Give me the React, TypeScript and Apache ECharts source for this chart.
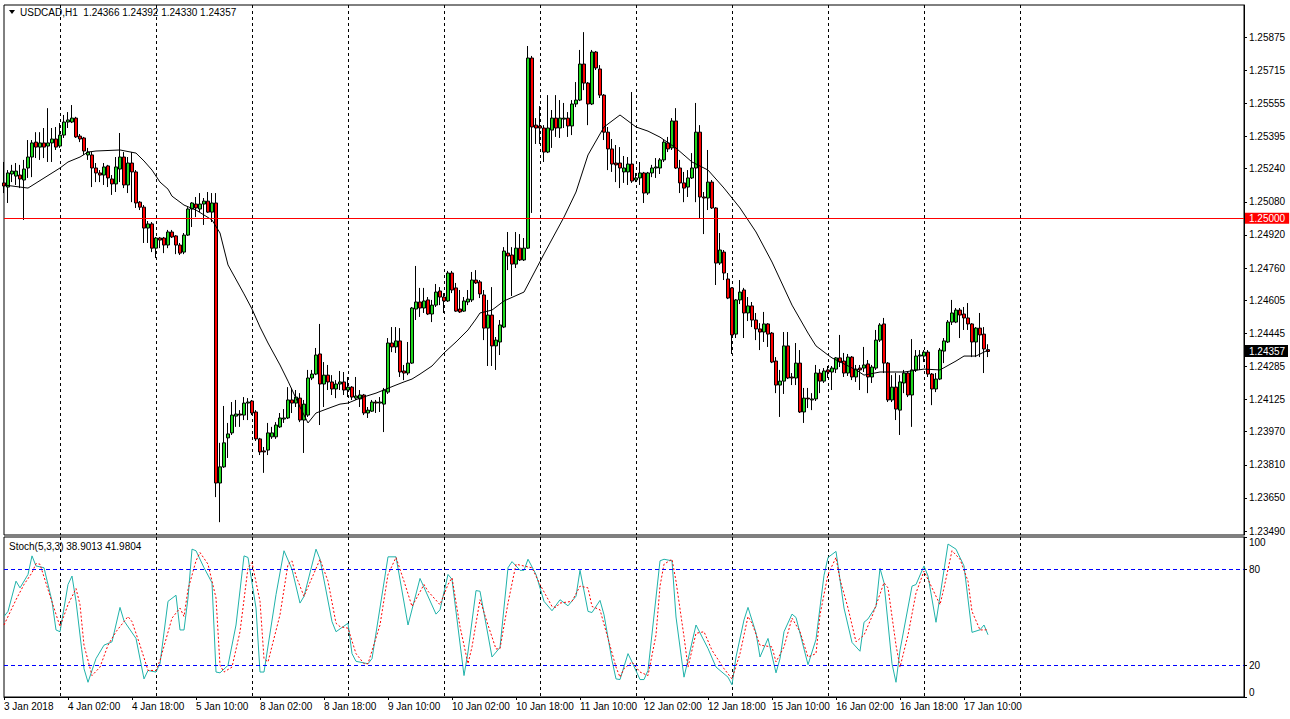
import React, { useEffect, useRef } from 'react';
import * as echarts from 'echarts';

// ---------- data (USDCAD H1, first bar 3 Jan 2018 10:00) ----------
const symbolName = 'USDCAD,H1';
const firstBarUTC = Date.UTC(2018, 0, 3, 10);
const totalSlots = 311;
const labelEvery = 16;
const levelPrice = 1.25;

const open = [
1.25171,1.25151,1.25214,1.25204,1.25209,1.25185,1.25243,1.25296,1.25368,1.25344,
1.25364,1.25349,1.25364,1.25383,1.25349,1.25402,1.25465,1.25465,1.25484,1.25397,
1.25388,1.25306,1.25306,1.25243,1.25219,1.25209,1.25253,1.25190,1.25166,1.25238,
1.25296,1.25161,1.25267,1.25224,1.25078,1.25054,1.24953,1.24973,1.24856,1.24905,
1.24905,1.24871,1.24934,1.24915,1.24871,1.24837,1.24919,1.25045,1.25069,1.25045,
1.25069,1.25083,1.25030,1.25074,1.23722,1.23800,1.23940,1.23964,1.24045,1.24055,
1.24050,1.24108,1.24118,1.24065,1.23935,1.23877,1.23881,1.23945,1.23945,1.23993,
1.24031,1.24036,1.24123,1.24108,1.24132,1.24026,1.24050,1.24229,1.24248,1.24345,
1.24200,1.24243,1.24210,1.24176,1.24200,1.24210,1.24171,1.24185,1.24132,1.24128,
1.24147,1.24060,1.24069,1.24113,1.24108,1.24103,1.24161,1.24398,1.24379,1.24408,
1.24263,1.24253,1.24301,1.24562,1.24596,1.24567,1.24606,1.24538,1.24581,1.24649,
1.24620,1.24601,1.24736,1.24664,1.24562,1.24552,1.24596,1.24606,1.24702,1.24693,
1.24630,1.24470,1.24533,1.24384,1.24403,1.24475,1.24832,1.24823,1.24779,1.24856,
1.24799,1.24856,1.25774,1.25450,1.25446,1.25436,1.25320,1.25426,1.25484,1.25436,
1.25479,1.25484,1.25446,1.25552,1.25571,1.25745,1.25653,1.25552,1.25803,1.25721,
1.25595,1.25416,1.25335,1.25267,1.25267,1.25224,1.25224,1.25262,1.25185,1.25195,
1.25219,1.25122,1.25219,1.25243,1.25243,1.25282,1.25364,1.25340,1.25470,1.25243,
1.25171,1.25151,1.25195,1.25243,1.25416,1.25103,1.25098,1.25175,1.25050,1.24784,
1.24837,1.24707,1.24664,1.24441,1.24606,1.24654,1.24543,1.24577,1.24509,1.24466,
1.24451,1.24490,1.24446,1.24311,1.24195,1.24214,1.24384,1.24234,1.24229,1.24301,
1.24065,1.24132,1.24123,1.24128,1.24253,1.24214,1.24268,1.24258,1.24272,1.24326,
1.24311,1.24253,1.24330,1.24234,1.24277,1.24277,1.24297,1.24234,1.24277,1.24412,
1.24490,1.24301,1.24123,1.24185,1.24074,1.24205,1.24253,1.24147,1.24268,1.24335,
1.24335,1.24354,1.24248,1.24176,1.24224,1.24359,1.24403,1.24499,1.24499,1.24557,
1.24538,1.24519,1.24490,1.24403,1.24470,1.24441,1.24366];

const high = [
1.25272,1.25233,1.25258,1.25267,1.25258,1.25282,1.25378,1.25378,1.25416,1.25416,
1.25436,1.25532,1.25436,1.25441,1.25460,1.25499,1.25513,1.25547,1.25490,1.25407,
1.25393,1.25340,1.25320,1.25267,1.25233,1.25267,1.25258,1.25209,1.25296,1.25412,
1.25320,1.25296,1.25320,1.25233,1.25083,1.25064,1.24987,1.24982,1.24910,1.24910,
1.24910,1.24944,1.24944,1.24919,1.24881,1.24929,1.25054,1.25078,1.25103,1.25122,
1.25098,1.25127,1.25122,1.25122,1.23916,1.24094,1.24012,1.24113,1.24123,1.24074,
1.24137,1.24132,1.24123,1.24074,1.23940,1.23896,1.24012,1.23993,1.24016,1.24060,
1.24079,1.24185,1.24181,1.24171,1.24156,1.24123,1.24268,1.24268,1.24374,1.24490,
1.24306,1.24292,1.24243,1.24219,1.24263,1.24258,1.24234,1.24190,1.24234,1.24171,
1.24152,1.24089,1.24123,1.24123,1.24137,1.24181,1.24422,1.24475,1.24475,1.24470,
1.24292,1.24403,1.24572,1.24770,1.24664,1.24664,1.24620,1.24606,1.24683,1.24668,
1.24639,1.24746,1.24746,1.24688,1.24654,1.24620,1.24654,1.24741,1.24750,1.24702,
1.24654,1.24606,1.24668,1.24427,1.24509,1.24861,1.24934,1.24861,1.24934,1.24924,
1.24905,1.25832,1.25784,1.25484,1.25542,1.25450,1.25595,1.25523,1.25595,1.25571,
1.25557,1.25513,1.25571,1.25658,1.25813,1.25899,1.25658,1.25813,1.25808,1.25740,
1.25600,1.25441,1.25383,1.25354,1.25344,1.25301,1.25296,1.25610,1.25219,1.25272,
1.25224,1.25224,1.25258,1.25291,1.25291,1.25378,1.25393,1.25484,1.25532,1.25282,
1.25224,1.25233,1.25315,1.25557,1.25450,1.25127,1.25330,1.25185,1.25054,1.24929,
1.24847,1.24736,1.24668,1.24610,1.24702,1.24664,1.24620,1.24596,1.24543,1.24494,
1.24548,1.24494,1.24451,1.24330,1.24268,1.24451,1.24451,1.24253,1.24398,1.24364,
1.24181,1.24181,1.24156,1.24292,1.24272,1.24277,1.24287,1.24287,1.24330,1.24437,
1.24350,1.24345,1.24335,1.24292,1.24292,1.24379,1.24316,1.24292,1.24461,1.24494,
1.24519,1.24306,1.24243,1.24253,1.24243,1.24268,1.24258,1.24417,1.24364,1.24364,
1.24364,1.24364,1.24253,1.24253,1.24374,1.24422,1.24509,1.24606,1.24567,1.24567,
1.24572,1.24591,1.24494,1.24475,1.24543,1.24475,1.24392];

const low = [
1.25122,1.25074,1.25175,1.25161,1.25146,1.24992,1.25195,1.25199,1.25291,1.25282,
1.25291,1.25272,1.25272,1.25330,1.25340,1.25388,1.25436,1.25460,1.25388,1.25368,
1.25306,1.25282,1.25151,1.25175,1.25175,1.25161,1.25151,1.25113,1.25127,1.25175,
1.25146,1.25122,1.25078,1.25050,1.25040,1.24881,1.24881,1.24837,1.24808,1.24856,
1.24832,1.24856,1.24905,1.24827,1.24823,1.24827,1.24915,1.24958,1.25006,1.25030,
1.24968,1.25026,1.24982,1.23654,1.23533,1.23795,1.23843,1.23954,1.23993,1.23993,
1.24026,1.24026,1.24050,1.23925,1.23857,1.23771,1.23857,1.23935,1.23935,1.23988,
1.24012,1.24031,1.24060,1.24089,1.24016,1.23867,1.24041,1.24219,1.24243,1.24002,
1.24089,1.24171,1.24147,1.24132,1.24171,1.24147,1.24137,1.24123,1.24123,1.24089,
1.24050,1.24036,1.24065,1.24060,1.24065,1.23968,1.24152,1.24354,1.24350,1.24234,
1.24219,1.24243,1.24297,1.24509,1.24524,1.24543,1.24533,1.24499,1.24572,1.24581,
1.24543,1.24596,1.24639,1.24548,1.24543,1.24548,1.24581,1.24596,1.24683,1.24615,
1.24412,1.24287,1.24287,1.24268,1.24340,1.24470,1.24750,1.24625,1.24760,1.24794,
1.24794,1.24852,1.25026,1.25359,1.25359,1.25272,1.25315,1.25340,1.25393,1.25388,
1.25436,1.25393,1.25402,1.25537,1.25566,1.25619,1.25450,1.25547,1.25716,1.25581,
1.25378,1.25233,1.25224,1.25175,1.25146,1.25171,1.25161,1.25171,1.25175,1.25161,
1.25074,1.25113,1.25199,1.25195,1.25214,1.25272,1.25320,1.25330,1.25238,1.25122,
1.25078,1.25103,1.25190,1.25078,1.25001,1.24924,1.25040,1.25045,1.24678,1.24775,
1.24702,1.24610,1.24345,1.24422,1.24586,1.24422,1.24504,1.24475,1.24412,1.24364,
1.24403,1.24379,1.24301,1.24156,1.24041,1.24152,1.24224,1.24195,1.24195,1.24060,
1.24012,1.24084,1.24074,1.24118,1.24156,1.24205,1.24229,1.24171,1.24253,1.24282,
1.24234,1.24239,1.24219,1.24210,1.24171,1.24258,1.24156,1.24205,1.24268,1.24403,
1.24253,1.24113,1.24113,1.24026,1.23954,1.24156,1.24137,1.23993,1.24258,1.24268,
1.24306,1.24234,1.24098,1.24161,1.24219,1.24301,1.24398,1.24485,1.24494,1.24422,
1.24461,1.24461,1.24330,1.24330,1.24330,1.24253,1.24330];

const close = [
1.25156,1.25219,1.25228,1.25228,1.25190,1.25238,1.25296,1.25364,1.25344,1.25364,
1.25344,1.25364,1.25383,1.25344,1.25402,1.25465,1.25475,1.25484,1.25393,1.25383,
1.25325,1.25320,1.25243,1.25219,1.25209,1.25248,1.25195,1.25166,1.25248,1.25296,
1.25161,1.25267,1.25224,1.25074,1.25054,1.24953,1.24973,1.24856,1.24905,1.24895,
1.24871,1.24934,1.24910,1.24871,1.24832,1.24919,1.25045,1.25074,1.25050,1.25069,
1.25083,1.25030,1.25074,1.23722,1.23800,1.23916,1.23959,1.24050,1.24055,1.24050,
1.24108,1.24113,1.24060,1.23935,1.23872,1.23872,1.23964,1.23964,1.24002,1.24036,
1.24036,1.24123,1.24108,1.24137,1.24026,1.24103,1.24229,1.24248,1.24340,1.24200,
1.24243,1.24210,1.24176,1.24200,1.24210,1.24171,1.24185,1.24137,1.24142,1.24147,
1.24060,1.24074,1.24113,1.24108,1.24113,1.24171,1.24398,1.24379,1.24408,1.24258,
1.24253,1.24301,1.24567,1.24596,1.24567,1.24601,1.24538,1.24581,1.24644,1.24620,
1.24601,1.24736,1.24654,1.24552,1.24548,1.24601,1.24610,1.24702,1.24688,1.24635,
1.24470,1.24533,1.24384,1.24412,1.24485,1.24842,1.24818,1.24779,1.24856,1.24799,
1.24856,1.25774,1.25441,1.25436,1.25436,1.25320,1.25436,1.25484,1.25436,1.25484,
1.25484,1.25446,1.25552,1.25571,1.25745,1.25653,1.25552,1.25803,1.25726,1.25595,
1.25416,1.25335,1.25262,1.25258,1.25243,1.25243,1.25262,1.25180,1.25195,1.25219,
1.25122,1.25219,1.25243,1.25248,1.25282,1.25368,1.25335,1.25470,1.25243,1.25171,
1.25146,1.25195,1.25243,1.25416,1.25103,1.25098,1.25175,1.25050,1.24784,1.24847,
1.24736,1.24615,1.24437,1.24606,1.24644,1.24543,1.24577,1.24509,1.24466,1.24451,
1.24490,1.24441,1.24306,1.24195,1.24214,1.24384,1.24229,1.24229,1.24301,1.24065,
1.24132,1.24128,1.24128,1.24253,1.24214,1.24263,1.24258,1.24277,1.24326,1.24306,
1.24253,1.24330,1.24234,1.24272,1.24268,1.24292,1.24234,1.24282,1.24412,1.24485,
1.24301,1.24123,1.24185,1.24079,1.24210,1.24253,1.24147,1.24268,1.24335,1.24340,
1.24354,1.24248,1.24176,1.24224,1.24364,1.24408,1.24499,1.24543,1.24557,1.24533,
1.24519,1.24490,1.24403,1.24470,1.24437,1.24369,1.24357];

// moving average, read at bar indices
const maIndex = [0,6,14,16,19,21,23,29,33,35,37,39,41,42,45,48,52,54,56,60,62,64,66,69,71,74,76,78,82,84,86,89,93,98,100,102,104,107,110,113,116,118,119,122,125,130,135,140,143,146,150,154,158,161,164,168,172,176,180,184,188,192,197,201,203,206,207,213,215,219,225,230,234,238,240,243,246];
const maValue = [1.25161,1.25146,1.25243,1.25272,1.25296,1.25320,1.25325,1.25330,1.25315,1.25277,1.25233,1.25175,1.25141,1.25107,1.25064,1.25040,1.24992,1.24929,1.24775,1.24635,1.24562,1.24475,1.24398,1.24292,1.24214,1.24089,1.24012,1.24060,1.24089,1.24103,1.24108,1.24132,1.24156,1.24195,1.24210,1.24224,1.24248,1.24287,1.24350,1.24403,1.24461,1.24514,1.24543,1.24557,1.24601,1.24644,1.24828,1.25006,1.25127,1.25306,1.25441,1.25499,1.25441,1.25421,1.25392,1.25339,1.25272,1.25233,1.25146,1.25050,1.24934,1.24789,1.24581,1.24446,1.24384,1.24340,1.24326,1.24268,1.24243,1.24258,1.24258,1.24272,1.24268,1.24311,1.24335,1.24335,1.24364];

// Stochastic(5,3,3) main (%K) and signal (%D), read at bar indices
const kIndex = [0,1,3,4,6,7,8,10,12,13,14,16,17,18,20,21,23,25,27,29,30,33,35,36,38,39,41,43,44,45,46,47,48,50,52,53,54,56,58,60,61,63,64,65,68,70,72,74,75,78,79,82,83,86,87,88,91,92,96,98,101,104,108,109,111,112,115,116,118,119,122,124,126,127,129,130,131,133,135,137,139,141,143,144,146,147,149,150,152,153,154,156,157,159,160,161,164,165,167,168,170,173,176,178,181,182,183,185,186,188,189,191,193,194,195,197,198,201,203,205,206,208,210,212,214,215,216,218,219,220,222,223,224,227,228,230,231,233,234,236,238,240,242,244,245,246];
const kValue = [50.3,53.5,72.4,68.2,76.6,88.2,81.9,80.8,59.8,41.9,40.8,70.3,75.6,59.8,17.7,9.2,24,32.4,34.5,56,47.6,36.6,11.3,16.6,15.6,20.8,59.8,63.6,41.9,41.9,61.9,92.4,91.4,80.8,71.4,15.6,15.1,19.8,45,88.2,87.2,55.6,15.6,15.6,64,91.4,79.8,58.7,62.9,92.4,86.1,47.1,40.8,46.1,27.1,22.3,20.8,24,87.6,87.6,45,74.1,51.8,54.5,76.6,73.5,13.4,28.2,66.5,66.1,25,31,80.8,84.6,79.2,79.2,86.1,76.6,59.8,53.9,60.8,57,63,79.2,53.5,52.8,60.4,51.4,22.9,11.3,10.9,27.1,21.9,10.9,10.9,16.6,85.1,86.1,85.1,50,12.4,45,30.3,18.7,12.4,7.6,25,48.2,56,40,25,36.6,15.1,24,40.8,51.8,49.7,20.2,36,76,87.2,91,55.6,34.1,28.6,46.7,48.8,56.6,80.4,71.4,20.8,9.2,29.2,69.3,70.3,81.9,75.6,46.7,63,95.6,92.4,81.9,40.4,42,45,38.9013];
const dIndex = [0,3,5,7,8,9,11,14,16,18,19,20,22,24,26,28,31,32,34,36,38,39,42,44,45,46,48,49,51,53,54,55,57,59,61,62,64,65,66,69,71,72,73,75,77,79,81,83,84,86,88,90,91,94,96,98,100,102,105,106,109,111,112,114,116,117,119,121,123,124,126,128,131,132,134,137,138,139,142,144,146,147,149,151,153,154,155,157,159,161,163,164,165,167,168,170,171,173,175,177,180,182,184,186,187,189,192,193,195,197,199,201,203,204,206,208,209,211,213,215,217,220,221,223,224,226,228,230,231,234,235,237,239,241,242,244,246];
const dValue = [45,60.8,70.3,77.7,83.4,83,67.2,44,57.7,67.8,57.7,32.4,13.4,18.7,32.4,40.8,50.3,47.1,32.4,16.6,16.6,22.9,49.3,55.6,50.3,67.2,85.1,90.3,83,61.9,19.8,15.6,18.7,40.8,80.8,84,59.8,24,21.9,51.4,83,85.1,75.6,62.9,74.5,86.1,72.4,46.1,44,43,27.1,20.8,20.8,45,76.6,87.2,72.4,56.6,70.3,66.1,57.7,70.3,74.5,44,20.8,31.3,60.8,45,30,30.3,58.7,83,81.3,80.8,70.3,56.6,56,58.7,59.8,69.3,68.2,56.6,54.5,36.6,18.7,12.4,17.7,21.9,15.6,13.4,38.7,69.3,83,86.1,72.4,37.7,18.7,39.8,40.8,29.2,17.7,11.3,27.1,50.3,46.1,32.4,31.3,21.9,31.3,49.3,40.8,25,27.1,51.4,76.6,87.2,73.5,55.6,34.5,38.7,50.3,71.4,68.2,32.4,18.7,38.7,65,78.7,73.5,57.7,68.2,91.4,86.1,72.4,53.5,41.9,41.9804];

const priceTicks = [1.25875,1.25715,1.25555,1.25395,1.25240,1.25080,1.24920,1.24760,1.24605,1.24445,1.24285,1.24125,1.23970,1.23810,1.23650,1.23490];
const stochTicks = [0, 20, 80, 100];
const stochLevels = [80, 20];
const stochParams = '5,3,3';

// ---------- helpers ----------
const MONTHS = ['Jan','Feb','Mar','Apr','May','Jun','Jul','Aug','Sep','Oct','Nov','Dec'];
function buildTimes(n: number): number[] {
  const out: number[] = [];
  let t = firstBarUTC;
  while (out.length < n) {
    const wd = new Date(t).getUTCDay();
    if (wd !== 0 && wd !== 6) out.push(t);
    t += 3600000;
  }
  return out;
}
const times = buildTimes(totalSlots);
const categories = times.map((t) => String(t));
const nBars = open.length;
const pad2 = (n: number) => (n < 10 ? '0' + n : String(n));
function fmtTime(i: number): string {
  const d = new Date(times[i]);
  const base = d.getUTCDate() + ' ' + MONTHS[d.getUTCMonth()];
  if (i === 0) return base + ' ' + d.getUTCFullYear();
  return base + ' ' + pad2(d.getUTCHours()) + ':' + pad2(d.getUTCMinutes());
}
const isLabel = (i: number) => i % labelEvery === 0 && i < nBars;
const isDayStart = (i: number) => i < nBars + 24 && new Date(times[i]).getUTCHours() === 0;

const FONT = '"Liberation Sans", Arial, sans-serif';

export default function App() {
  const ref = useRef<HTMLDivElement>(null);
  useEffect(() => {
    const chart = echarts.init(ref.current!, null, { renderer: 'svg' });
    const candles = open.map((o, i) => [o, close[i], low[i], high[i]]);
    const maData = maIndex.map((x, i) => [x, maValue[i]]);
    const kData = kIndex.map((x, i) => [x, kValue[i]]);
    const dData = dIndex.map((x, i) => [x, dValue[i]]);
    const last = nBars - 1;
    const sep = { show: true, interval: (i: number) => isDayStart(i), lineStyle: { color: '#000', type: [3, 3], width: 1 } };
    const header = `${symbolName}  ${open[last].toFixed(5)} ${high[last].toFixed(5)} ${low[last].toFixed(5)} ${close[last].toFixed(5)}`;
    const stochTitle = `Stoch(${stochParams}) ${kValue[kValue.length - 1].toFixed(4)} ${dValue[dValue.length - 1].toFixed(4)}`;
    const levelStyle = { color: '#0000ff', width: 1, type: [4, 3], opacity: 1 };
    const baseGraphic = [
      { type: 'polygon', shape: { points: [[9, 10], [15, 10], [12, 14]] }, style: { fill: '#000' }, z: 10 },
      { type: 'text', x: 20, y: 7, style: { text: header, fill: '#000', font: `10px ${FONT}` }, z: 10 },
      { type: 'text', x: 9, y: 541, style: { text: stochTitle, fill: '#000', font: `10px ${FONT}` }, z: 10 },
    ];

    chart.setOption({
      animation: false,
      backgroundColor: '#ffffff',
      textStyle: { fontFamily: FONT, fontSize: 10, color: '#000' },
      grid: [
        { left: 4, right: 46, top: 5, height: 530, show: true, borderColor: '#000', borderWidth: 1, backgroundColor: '#fff' },
        { left: 4, right: 46, top: 537, height: 160, show: true, borderColor: '#000', borderWidth: 1, backgroundColor: '#fff' },
      ],
      xAxis: [
        {
          type: 'category', gridIndex: 0, data: categories, boundaryGap: false,
          axisLine: { show: false }, axisTick: { show: false }, axisLabel: { show: false },
          splitLine: sep,
        },
        {
          type: 'category', gridIndex: 1, data: categories, boundaryGap: false,
          axisLine: { show: true, lineStyle: { color: '#000', width: 1 } },
          axisTick: { show: true, interval: (i: number) => isLabel(i), length: 3, lineStyle: { color: '#000' } },
          axisLabel: {
            show: true, interval: (i: number) => isLabel(i), formatter: (_v: string, i: number) => fmtTime(i),
            align: 'left', margin: 4, color: '#000', fontFamily: FONT, fontSize: 10,
          },
          splitLine: sep,
        },
      ],
      yAxis: [
        {
          type: 'value', gridIndex: 0, position: 'right', min: 1.23471, max: 1.2603,
          axisLine: { show: true, lineStyle: { color: '#000' } },
          axisTick: { show: true, length: 3, customValues: priceTicks, lineStyle: { color: '#000' } },
          axisLabel: { customValues: priceTicks, formatter: (v: number) => v.toFixed(5), margin: 5, color: '#000', fontFamily: FONT, fontSize: 10 },
          splitLine: { show: false },
        },
        {
          type: 'value', gridIndex: 1, position: 'right', min: 0, max: 100,
          axisLine: { show: true, lineStyle: { color: '#000' } },
          axisTick: { show: true, length: 3, customValues: stochTicks, lineStyle: { color: '#000' } },
          axisLabel: {
            customValues: stochTicks, margin: 5, color: '#000', fontFamily: FONT, fontSize: 10,
            verticalAlignMaxLabel: 'top', verticalAlignMinLabel: 'bottom',
          },
          splitLine: { show: false },
        },
      ],
      series: [
        {
          type: 'candlestick', xAxisIndex: 0, yAxisIndex: 0, data: candles, barWidth: 3,
          itemStyle: { color: '#1ed81e', color0: '#ff0000', borderColor: '#000', borderColor0: '#000', borderColorDoji: '#000', borderWidth: 1 },
          z: 2,
        },
        {
          type: 'line', xAxisIndex: 0, yAxisIndex: 0, data: maData, symbol: 'none',
          lineStyle: { color: '#000', width: 1 }, z: 3,
          markLine: {
            symbol: 'none', silent: true, animation: false,
            data: [
              {
                yAxis: levelPrice, lineStyle: { color: '#ff0000', width: 1, type: 'solid' },
                label: { show: true, position: 'end', formatter: levelPrice.toFixed(5), color: '#fff', backgroundColor: '#ff0000', padding: [1, 4, 0, 4], distance: 1, fontFamily: FONT, fontSize: 10 },
              },
            ],
          },
        },
        {
          type: 'line', xAxisIndex: 1, yAxisIndex: 1, data: kData, symbol: 'none',
          lineStyle: { color: '#20b2aa', width: 1 }, z: 3,
          markLine: {
            symbol: 'none', silent: true, animation: false, label: { show: false },
            lineStyle: levelStyle,
            data: stochLevels.map((v) => ({ yAxis: v, lineStyle: levelStyle })),
          },
        },
        {
          type: 'line', xAxisIndex: 1, yAxisIndex: 1, data: dData, symbol: 'none',
          lineStyle: { color: '#ff0000', width: 1, type: [2, 2] }, z: 4,
        },
      ],
      graphic: baseGraphic,
    });

    // current-price box on the price scale, positioned through the axis scale
    const py = chart.convertToPixel({ yAxisIndex: 0 }, close[last]) as number;
    chart.setOption({
      graphic: [
        ...baseGraphic,
        { type: 'rect', shape: { x: 1245, y: Math.round(py) - 6, width: 43, height: 12 }, style: { fill: '#000' }, z: 10 },
        {
          type: 'text', x: 1249, y: Math.round(py),
          style: { text: close[last].toFixed(5), fill: '#fff', font: `10px ${FONT}`, verticalAlign: 'middle' }, z: 11,
        },
      ],
    });
    return () => chart.dispose();
  }, []);
  return <div ref={ref} style={{ position: 'fixed', left: 0, top: 0, width: 1290, height: 719, background: '#fff' }} />;
}
